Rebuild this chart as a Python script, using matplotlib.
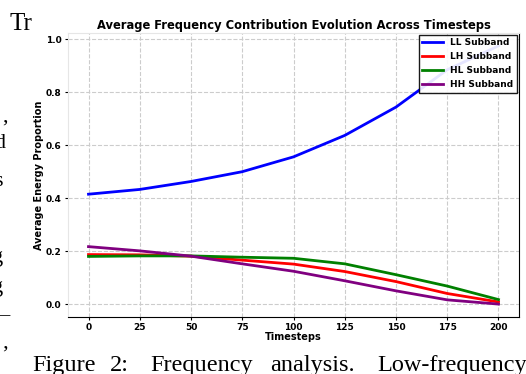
import numpy as np
import matplotlib.pyplot as plt

# valori
timesteps = [0, 25, 50, 75, 100, 125, 150, 175, 200]
ll = [0.415, 0.433, 0.463, 0.500, 0.556, 0.637, 0.744, 0.885, 0.975]
lh = [0.187, 0.186, 0.181, 0.166, 0.151, 0.123, 0.085, 0.040, 0.008]
hl = [0.180, 0.182, 0.182, 0.177, 0.173, 0.152, 0.111, 0.068, 0.017]
hh = [0.217, 0.201, 0.181, 0.152, 0.124, 0.088, 0.050, 0.016, 0.000]

nomi = ['LL Subband', 'LH Subband', 'HL Subband', 'HH Subband']
colori = ['blue', 'red', 'green', 'purple']

W, H = 526, 374
fig = plt.figure(figsize=(5.26, 3.74), dpi=100)

# testo della pagina attorno alla figura (solo la parte visibile)
fig.text(10 / W, 1 - 30 / H, 'Tr', family='Liberation Serif', fontsize=18)

for s, x in [('Figure', 32), ('2:', 110), ('Frequency', 150), ('analysis.', 270),
             ('Low-frequency', 377)]:
    fig.text(x / W, 1 - 371 / H, s, family='Liberation Serif', fontsize=17.5)

for s, y, x in [(',', 122, 8), ('d', 148, 5), ('s', 186, 3), ('g', 262, 3),
                ('g', 292, 3), ('—', 320, 9), ('’', 360, 8)]:
    fig.text(x / W, 1 - y / H, s, family='Liberation Serif', fontsize=16,
             ha='right')

ax = fig.add_axes([68 / W, 1 - 317 / H, 451 / W, 284 / H])

serie = [ll, lh, hl, hh]
for i in range(4):
    ax.plot(timesteps, serie[i], color=colori[i], linewidth=2, label=nomi[i])

ax.set_xticks([0, 25, 50, 75, 100, 125, 150, 175, 200])
ax.set_yticks([0.0, 0.2, 0.4, 0.6, 0.8, 1.0])
ax.grid(True, linestyle='--', color='#cccccc', linewidth=0.8)
ax.tick_params(labelsize=6.5, length=2.5, pad=2)
for lab in ax.get_xticklabels() + ax.get_yticklabels():
    lab.set_fontweight('bold')

ax.set_title('Average Frequency Contribution Evolution Across Timesteps',
             fontsize=8.3, fontweight='bold', pad=3)
ax.set_xlabel('Timesteps', fontsize=7, fontweight='bold', labelpad=0)
ax.set_ylabel('Average Energy Proportion', fontsize=7, fontweight='bold', labelpad=1)

ax.spines['top'].set_color('#e6e6e6')
ax.spines['left'].set_color('#e6e6e6')
ax.spines['bottom'].set_color('black')
ax.spines['right'].set_color('black')

leg = ax.legend(loc='upper right', prop={'size': 6.5, 'weight': 'bold'},
                fancybox=False, edgecolor='black', framealpha=0.9,
                borderpad=0.4, labelspacing=0.55, handlelength=2.3,
                borderaxespad=0.2)

plt.savefig('out.png', dpi=100)
